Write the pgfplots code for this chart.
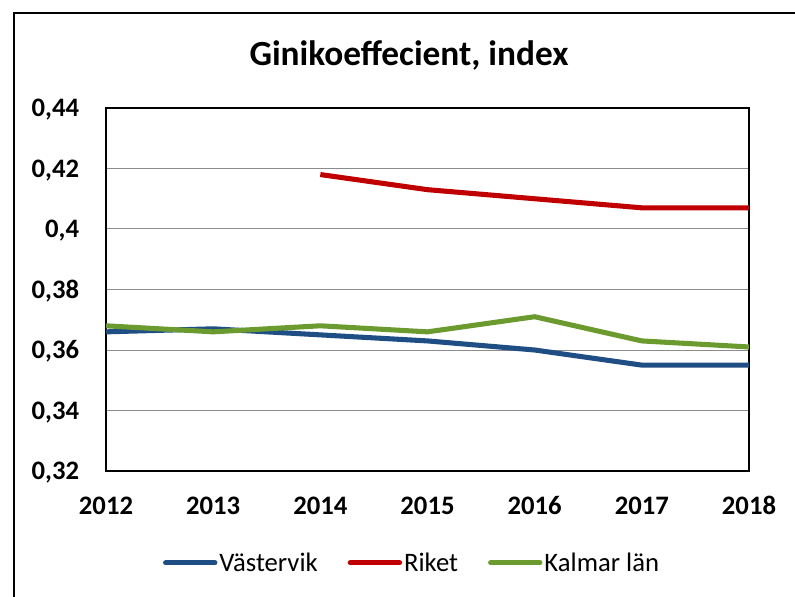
\documentclass[border=0pt]{standalone}
\usepackage{pgfplots}
\pgfplotsset{compat=1.18}
\usepackage{fontspec}
\setmainfont{Carlito}
\definecolor{vblue}{HTML}{1F4E85}
\definecolor{rred}{HTML}{C00000}
\definecolor{kgreen}{HTML}{6B9B2F}
\definecolor{gridgray}{HTML}{8C8C8C}
\begin{document}
\begin{tikzpicture}
\path[use as bounding box] (0,0) rectangle (596.25pt,447pt);
% outer chart frame (cropped at right and bottom)
\draw[line width=0.9pt] (10.5pt,-2pt) -- (10.5pt,437.25pt) -- (600pt,437.25pt);
\node[font=\fontsize{26.5}{30}\selectfont\bfseries] at (306.75pt,405.75pt) {Ginikoeffecient, index};
\begin{axis}[
  at={(79.5pt,93.75pt)}, anchor=south west,
  scale only axis, width=482.25pt, height=272.25pt,
  xmin=2012, xmax=2018, ymin=0.32, ymax=0.44,
  xtick={2012,2013,2014,2015,2016,2017,2018},
  ytick={0.32,0.34,0.36,0.38,0.40,0.42,0.44},
  scaled y ticks=false,
  /pgf/number format/.cd, use comma, 1000 sep={}, fixed, precision=2, assume math mode=true,
  /pgfplots/.cd,
  major tick length=0pt,
  ymajorgrids,
  major grid style={gridgray, line width=0.75pt},
  axis line style={line width=1.2pt},
  tick label style={font=\fontsize{20}{24}\selectfont\bfseries},
  yticklabel style={inner xsep=0pt, xshift=-20pt, text height=13pt, text depth=0pt},
  xticklabel style={inner ysep=0pt, yshift=-19.5pt, text height=13pt, text depth=0pt},
  legend columns=3,
  legend style={at={(0.476,-0.253)}, anchor=center, draw=none,
    font=\fontsize{20}{24}\selectfont, inner sep=0pt,
    nodes={inner sep=1.5pt},
    /tikz/every even column/.append style={column sep=21pt}},
  legend image code/.code={\draw[#1, line cap=round] (0pt,0pt) -- (37pt,0pt);},
  every axis plot/.append style={line width=3.8pt, line join=round},
]
\addplot[vblue] coordinates {
  (2012,0.366) (2013,0.367) (2014,0.365) (2015,0.363)
  (2016,0.360) (2017,0.355) (2018,0.355)
};
\addlegendentry{Västervik}
\addplot[rred] coordinates {
  (2014,0.418) (2015,0.413) (2016,0.410) (2017,0.407) (2018,0.407)
};
\addlegendentry{Riket}
\addplot[kgreen] coordinates {
  (2012,0.368) (2013,0.366) (2014,0.368) (2015,0.366)
  (2016,0.371) (2017,0.363) (2018,0.361)
};
\addlegendentry{Kalmar län}
\end{axis}
\end{tikzpicture}
\end{document}
